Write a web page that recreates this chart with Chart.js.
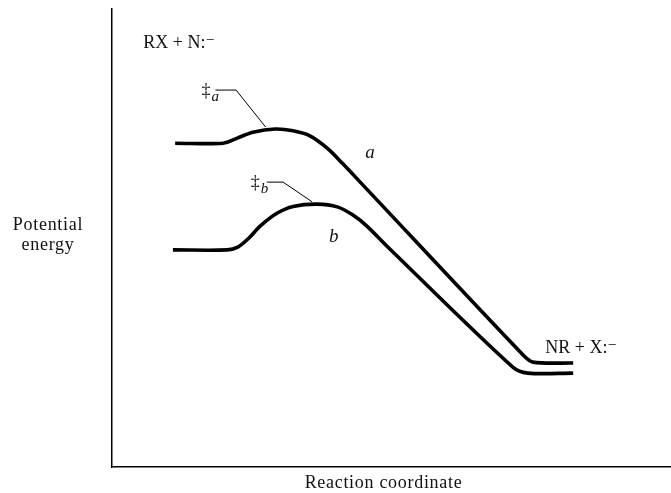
<!DOCTYPE html>
<html>
<head>
<meta charset="utf-8">
<script src="https://cdn.jsdelivr.net/npm/chart.js@4"></script>
<style>
  html, body { margin: 0; padding: 0; background: #fff; }
  #wrap { width: 671px; height: 493px; }
</style>
</head>
<body>
<div id="wrap"><canvas id="energyChart"></canvas></div>
<script>
// reaction coordinate (x) and potential energy (y), both in 0..100 units
let curveAX = [11.3, 19.9, 22.4, 25.2, 29.2, 32.4, 35.4, 38.5, 41.3, 44.4, 73.5, 75.3, 82.5];
let curveAY = [70.7, 70.7, 71.8, 73.1, 73.8, 73.4, 72.3, 69.6, 66.2, 62.2, 24.5, 22.9, 22.7];

let curveBX = [10.9, 20.6, 22.5, 24.5, 26.5, 29.5, 32.4, 36.7, 40.3, 43.1, 45.6, 49.2, 71.7, 74.4, 82.5];
let curveBY = [47.4, 47.4, 48.0, 50.0, 52.6, 55.4, 56.9, 57.4, 56.8, 55.0, 52.6, 48.2, 21.8, 20.5, 20.5];

// leader lines from the transition-state labels to the curve maxima
let leaderAX = [18.5, 22.2, 27.5];
let leaderAY = [82.3, 82.3, 74.2];
let leaderBX = [27.7, 30.6, 35.8];
let leaderBY = [62.2, 62.2, 57.9];

let labels = [
    {x: 5.6, y: 91.5, text: "RX + N:\u207B"},
    {x: 77.5, y: 24.9, text: "NR + X:\u207B"}
];
let ts = [
    {x: 16.0, y: 81.0, sub: "a"},
    {x: 24.8, y: 61.0, sub: "b"}
];
let curveNames = [
    {x: 45.3, y: 67.5, text: "a"},
    {x: 38.8, y: 49.2, text: "b"}
];

function pts(xs, ys) {
    return xs.map((x, i) => ({x: x, y: ys[i]}));
}

let serif = '"Liberation Serif", "DejaVu Serif", serif';

let textPlugin = {
    id: 'texts',
    afterDatasetsDraw(chart) {
        let ctx = chart.ctx;
        let xs = chart.scales.x, ys = chart.scales.y;
        let area = chart.chartArea;
        ctx.save();
        ctx.fillStyle = '#111';
        ctx.textBaseline = 'alphabetic';
        ctx.textAlign = 'left';
        ctx.font = '18px ' + serif;
        labels.forEach(l => ctx.fillText(l.text, xs.getPixelForValue(l.x), ys.getPixelForValue(l.y)));

        ts.forEach(t => {
            let px = xs.getPixelForValue(t.x), py = ys.getPixelForValue(t.y);
            ctx.font = '18px ' + serif;
            ctx.fillText('\u2021', px, py);
            let w = ctx.measureText('\u2021').width;
            ctx.font = 'italic 15px ' + serif;
            ctx.fillText(t.sub, px + w + 1, py + 5);
        });

        ctx.font = 'italic 19px ' + serif;
        curveNames.forEach(c => ctx.fillText(c.text, xs.getPixelForValue(c.x), ys.getPixelForValue(c.y)));

        // axis titles
        ctx.font = '18px ' + serif;
        ctx.letterSpacing = '0.7px';
        ctx.textAlign = 'center';
        let midY = (area.top + area.bottom) / 2;
        ctx.fillText('Potential', area.left / 2 - 8, midY - 8);
        ctx.fillText('energy', area.left / 2 - 8, midY + 12);
        ctx.fillText('Reaction coordinate', (area.left + area.right) / 2 - 8, area.bottom + 21);
        ctx.restore();
    }
};

new Chart(document.getElementById('energyChart'), {
    type: 'scatter',
    data: {
        datasets: [
            {data: pts(curveAX, curveAY), showLine: true, borderColor: '#000', borderWidth: 3.6, pointRadius: 0, tension: 0.3},
            {data: pts(curveBX, curveBY), showLine: true, borderColor: '#000', borderWidth: 3.6, pointRadius: 0, tension: 0.3},
            {data: pts(leaderAX, leaderAY), showLine: true, borderColor: '#000', borderWidth: 1, pointRadius: 0, tension: 0},
            {data: pts(leaderBX, leaderBY), showLine: true, borderColor: '#000', borderWidth: 1, pointRadius: 0, tension: 0}
        ]
    },
    options: {
        maintainAspectRatio: false,
        responsive: true,
        animation: false,
        layout: {
            padding: {left: 112, top: 9, right: 0, bottom: 26}
        },
        scales: {
            x: {
                type: 'linear',
                min: 0,
                max: 100,
                ticks: {display: false},
                grid: {display: false, drawTicks: false},
                border: {display: true, color: '#000', width: 1.5}
            },
            y: {
                type: 'linear',
                min: 0,
                max: 100,
                ticks: {display: false},
                grid: {display: false, drawTicks: false},
                border: {display: true, color: '#000', width: 1.5}
            }
        },
        plugins: {
            legend: {display: false},
            tooltip: {enabled: false}
        }
    },
    plugins: [textPlugin]
});
</script>
</body>
</html>
